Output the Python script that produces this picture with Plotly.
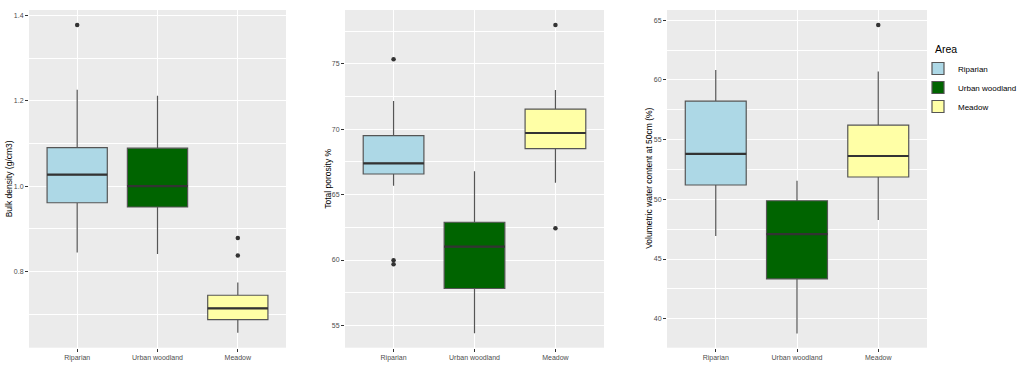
import plotly.graph_objects as go

# ---------------- data ----------------
areas = ["Riparian", "Urban woodland", "Meadow"]
fill_colors = ["#ADD8E6", "#006400", "#FFFFA6"]

# Bulk density (g/cm3)
bd_q1 = [0.961, 0.951, 0.687]
bd_med = [1.027, 1.000, 0.713]
bd_q3 = [1.090, 1.089, 0.744]
bd_lo = [0.844, 0.841, 0.656]
bd_hi = [1.226, 1.212, 0.774]
bd_out_x = ["Riparian", "Meadow", "Meadow"]
bd_out_y = [1.378, 0.878, 0.837]

# Total porosity %
tp_q1 = [66.58, 57.82, 68.52]
tp_med = [67.40, 61.02, 69.72]
tp_q3 = [69.51, 62.89, 71.55]
tp_lo = [65.69, 54.39, 65.92]
tp_hi = [72.17, 66.80, 73.00]
tp_out_x = ["Riparian", "Riparian", "Riparian", "Meadow", "Meadow"]
tp_out_y = [75.36, 59.98, 59.67, 77.98, 62.43]

# Volumetric water content at 50cm (%)
vw_q1 = [51.20, 43.33, 51.87]
vw_med = [53.80, 47.09, 53.63]
vw_q3 = [58.22, 49.88, 56.21]
vw_lo = [46.93, 38.75, 48.27]
vw_hi = [60.84, 51.56, 60.70]
vw_out_x = ["Meadow"]
vw_out_y = [64.61]

y_titles = ["Bulk density (g/cm3)", "Total porosity %", "Volumetric water content at 50cm (%)"]
legend_title = "Area"

panels = [
    (bd_q1, bd_med, bd_q3, bd_lo, bd_hi, bd_out_x, bd_out_y),
    (tp_q1, tp_med, tp_q3, tp_lo, tp_hi, tp_out_x, tp_out_y),
    (vw_q1, vw_med, vw_q3, vw_lo, vw_hi, vw_out_x, vw_out_y),
]

# ---------------- layout params ----------------
W, H = 1024, 369
x_domains = [(29 / W, 286 / W), (345 / W, 604 / W), (667 / W, 927 / W)]
y_domain = (1 - 347.7 / H, 1 - 10 / H)
y_ranges = [(0.621, 1.413), (53.29, 79.13), (37.57, 65.86)]
y_dticks = [0.2, 5, 5]
y_tick0 = [0.0, 0, 0]
y_fmt = [".1f", "d", "d"]
title_x = [8.5, 328, 649]
box_w = 0.75
line_col = "#555555"

fig = go.Figure()
shapes = []

for p, (q1, med, q3, lo, hi, ox, oy) in enumerate(panels):
    xa = "x" if p == 0 else f"x{p + 1}"
    ya = "y" if p == 0 else f"y{p + 1}"
    for i, a in enumerate(areas):
        fig.add_trace(go.Box(
            x=[a], q1=[q1[i]], median=[med[i]], q3=[q3[i]],
            lowerfence=[lo[i]], upperfence=[hi[i]],
            name=a, legendgroup=a, showlegend=(p == 0),
            fillcolor=fill_colors[i],
            line=dict(color=line_col, width=1.2),
            whiskerwidth=0, width=box_w, boxpoints=False,
            xaxis=xa, yaxis=ya,
        ))
        shapes.append(dict(
            type="line", xref=xa, yref=ya,
            x0=i - box_w / 2, x1=i + box_w / 2, y0=med[i], y1=med[i],
            line=dict(color="#333333", width=2.2), layer="above",
        ))
    fig.add_trace(go.Scatter(
        x=ox, y=oy, mode="markers",
        marker=dict(color="#333333", size=4.5),
        showlegend=False, hoverinfo="y", xaxis=xa, yaxis=ya,
    ))

axis_common = dict(
    showgrid=True, gridcolor="white", gridwidth=1.1,
    zeroline=False, showline=False,
    ticks="outside", ticklen=3, tickwidth=1, tickcolor="#333333",
    tickfont=dict(family="Liberation Sans, Arial, sans-serif", size=7, color="#4D4D4D"),
)

layout = dict(
    width=W, height=H,
    margin=dict(l=0, r=0, t=0, b=0),
    paper_bgcolor="white", plot_bgcolor="#EBEBEB",
    boxmode="overlay",
    shapes=shapes,
    font=dict(family="Liberation Sans, Arial, sans-serif", color="#000000"),
    legend=dict(
        x=918 / W, y=1 - 54 / H, xanchor="left", yanchor="top",
        font=dict(size=8, color="#000000"),
        bgcolor="rgba(0,0,0,0)", tracegroupgap=0,
    ),
)

annotations = []
for p in range(3):
    xk = "xaxis" if p == 0 else f"xaxis{p + 1}"
    yk = "yaxis" if p == 0 else f"yaxis{p + 1}"
    xa = "x" if p == 0 else f"x{p + 1}"
    ya = "y" if p == 0 else f"y{p + 1}"
    layout[xk] = dict(
        axis_common, domain=list(x_domains[p]), anchor=ya,
        type="category", categoryorder="array", categoryarray=areas,
        range=[-0.6, 2.6],
    )
    layout[yk] = dict(
        axis_common, domain=list(y_domain), anchor=xa,
        range=list(y_ranges[p]), dtick=y_dticks[p], tick0=y_tick0[p],
        tickformat=y_fmt[p],
        minor=dict(showgrid=True, gridcolor="white", gridwidth=0.55,
                   dtick=y_dticks[p] / 2, tick0=y_tick0[p]),
    )
    annotations.append(dict(
        text=y_titles[p], textangle=-90, showarrow=False,
        xref="paper", yref="paper",
        x=title_x[p] / W, y=(y_domain[0] + y_domain[1]) / 2,
        xanchor="center", yanchor="middle",
        font=dict(size=8.5, color="#000000"),
    ))

annotations.append(dict(
    text=legend_title, showarrow=False, xref="paper", yref="paper",
    x=933 / W, y=1 - 49 / H, xanchor="left", yanchor="middle",
    font=dict(size=10.5, color="#000000"),
))

layout["annotations"] = annotations
fig.update_layout(**layout)

fig.write_html(
    "out.html",
    config={"displayModeBar": False},
    post_script="document.body.style.margin='0px';document.body.style.overflow='hidden';",
)
